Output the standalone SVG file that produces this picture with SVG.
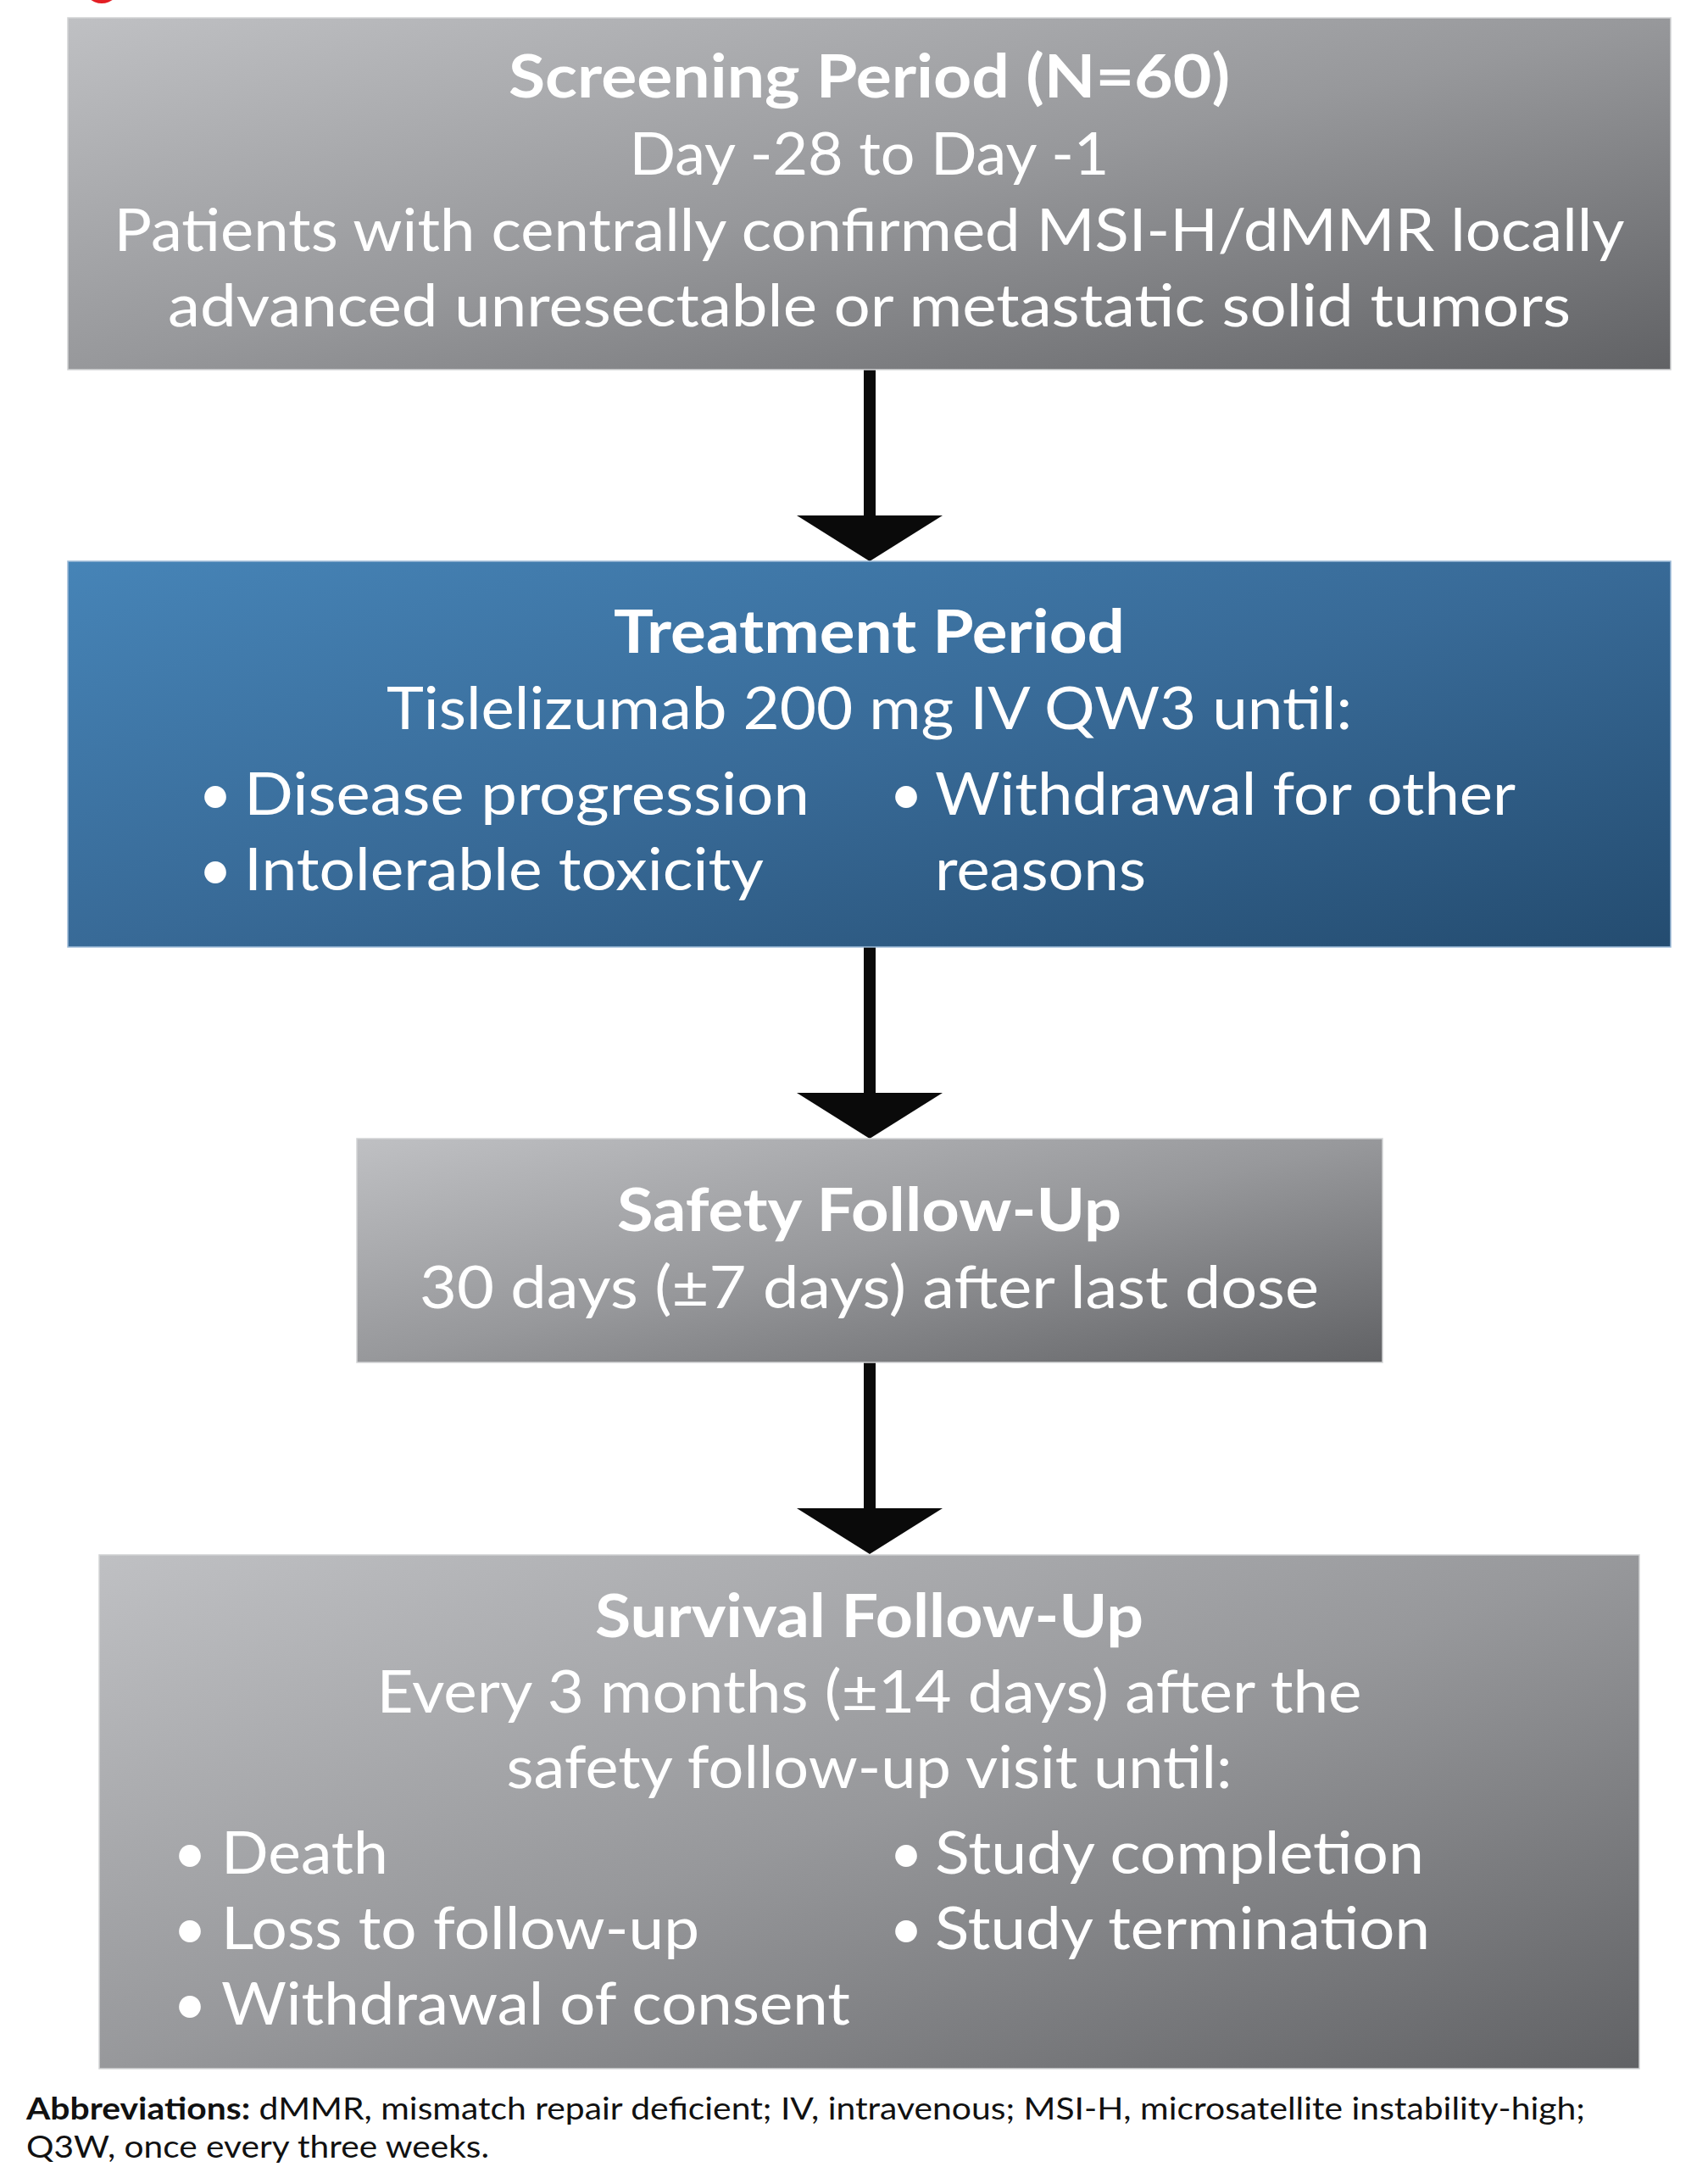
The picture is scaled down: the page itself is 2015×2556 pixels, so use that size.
<svg xmlns="http://www.w3.org/2000/svg" width="2015" height="2556" viewBox="0 0 2015 2556">
  <defs>
    <linearGradient id="gGray" x1="0" y1="0" x2="1" y2="1">
      <stop offset="0" stop-color="#bfc0c3"/>
      <stop offset="0.5" stop-color="#97989b"/>
      <stop offset="1" stop-color="#616265"/>
    </linearGradient>
    <linearGradient id="gBlue" x1="0" y1="0" x2="1" y2="1">
      <stop offset="0" stop-color="#4684b7"/>
      <stop offset="0.5" stop-color="#386a97"/>
      <stop offset="1" stop-color="#244c70"/>
    </linearGradient>
    <marker id="head" viewBox="0 0 54 172" markerWidth="54" markerHeight="172" markerUnits="userSpaceOnUse" refX="0" refY="86" orient="auto">
      <path d="M0,0 L54,86 L0,172 Z" fill="#0a0a0a"/>
    </marker>
  </defs>
  <style>
    .box-gray { fill: url(#gGray); stroke: #d2d3d5; stroke-width: 1.5; }
    .box-blue { fill: url(#gBlue); stroke: #9dbbd8; stroke-width: 1.5; }
    .t { font-family: Lato, "Liberation Sans", sans-serif; fill: #ffffff; font-size: 69px; }
    .c { text-anchor: middle; }
    .h { font-weight: 700; font-size: 70px; }
    .conn { stroke: #0a0a0a; stroke-width: 14; fill: none; marker-end: url(#head); }
    .abbr { font-family: Lato, "Liberation Sans", sans-serif; fill: #111111; font-size: 36px; }
  </style>
  <rect width="2015" height="2556" fill="#ffffff"/>
  <ellipse cx="120" cy="-16" rx="21" ry="20" fill="#e31e24"/>

  <g id="connectors">
    <path class="conn" d="M1026,436 V608"/>
    <path class="conn" d="M1026,1117 V1289"/>
    <path class="conn" d="M1026,1607 V1779"/>
  </g>

  <g id="screening">
    <rect class="box-gray" x="80" y="21" width="1891" height="415"/>
    <text class="t c h" x="1025.5" y="115" textLength="851" lengthAdjust="spacingAndGlyphs">Screening Period (N=60)</text>
    <text class="t c" x="1025.5" y="206" textLength="566" lengthAdjust="spacingAndGlyphs">Day -28 to Day -1</text>
    <text class="t c" x="1025.5" y="296" textLength="1782" lengthAdjust="spacingAndGlyphs">Patients with centrally confirmed MSI-H/dMMR locally</text>
    <text class="t c" x="1025.5" y="385" textLength="1655" lengthAdjust="spacingAndGlyphs">advanced unresectable or metastatic solid tumors</text>
  </g>

  <g id="treatment">
    <rect class="box-blue" x="80" y="662" width="1891" height="455"/>
    <text class="t c h" x="1025.5" y="770" textLength="603" lengthAdjust="spacingAndGlyphs">Treatment Period</text>
    <text class="t c" x="1025.5" y="860" textLength="1139" lengthAdjust="spacingAndGlyphs">Tislelizumab 200 mg IV QW3 until:</text>
    <text class="t" x="234" y="961">•</text>
    <text class="t" x="288" y="961" textLength="667" lengthAdjust="spacingAndGlyphs">Disease progression</text>
    <text class="t" x="234" y="1050">•</text>
    <text class="t" x="288" y="1050" textLength="613" lengthAdjust="spacingAndGlyphs">Intolerable toxicity</text>
    <text class="t" x="1049" y="961">•</text>
    <text class="t" x="1103" y="961" textLength="685" lengthAdjust="spacingAndGlyphs">Withdrawal for other</text>
    <text class="t" x="1103" y="1050" textLength="249" lengthAdjust="spacingAndGlyphs">reasons</text>
  </g>

  <g id="safety">
    <rect class="box-gray" x="421" y="1343" width="1210" height="264"/>
    <text class="t c h" x="1025.5" y="1452" textLength="595" lengthAdjust="spacingAndGlyphs">Safety Follow-Up</text>
    <text class="t c" x="1025.5" y="1543" textLength="1061" lengthAdjust="spacingAndGlyphs">30 days (±7 days) after last dose</text>
  </g>

  <g id="survival">
    <rect class="box-gray" x="117" y="1834" width="1817" height="606"/>
    <text class="t c h" x="1025.5" y="1931" textLength="647" lengthAdjust="spacingAndGlyphs">Survival Follow-Up</text>
    <text class="t c" x="1025.5" y="2020" textLength="1162" lengthAdjust="spacingAndGlyphs">Every 3 months (±14 days) after the</text>
    <text class="t c" x="1025.5" y="2109" textLength="856" lengthAdjust="spacingAndGlyphs">safety follow-up visit until:</text>
    <text class="t" x="204" y="2210">•</text>
    <text class="t" x="261" y="2210" textLength="197" lengthAdjust="spacingAndGlyphs">Death</text>
    <text class="t" x="204" y="2299">•</text>
    <text class="t" x="261" y="2299" textLength="564" lengthAdjust="spacingAndGlyphs">Loss to follow-up</text>
    <text class="t" x="204" y="2388">•</text>
    <text class="t" x="261" y="2388" textLength="742" lengthAdjust="spacingAndGlyphs">Withdrawal of consent</text>
    <text class="t" x="1049" y="2210">•</text>
    <text class="t" x="1103" y="2210" textLength="577" lengthAdjust="spacingAndGlyphs">Study completion</text>
    <text class="t" x="1049" y="2299">•</text>
    <text class="t" x="1103" y="2299" textLength="584" lengthAdjust="spacingAndGlyphs">Study termination</text>
  </g>

  <g id="abbreviations">
    <text class="abbr" x="31" y="2500" textLength="1839" lengthAdjust="spacingAndGlyphs"><tspan font-weight="700">Abbreviations:</tspan> dMMR, mismatch repair deficient; IV, intravenous; MSI-H, microsatellite instability-high;</text>
    <text class="abbr" x="31" y="2545" textLength="546" lengthAdjust="spacingAndGlyphs">Q3W, once every three weeks.</text>
  </g>
</svg>
